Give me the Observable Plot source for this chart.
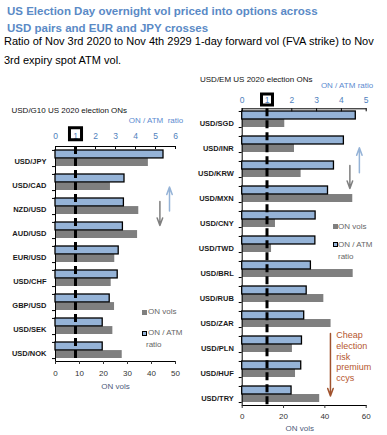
<!DOCTYPE html>
<html><head><meta charset="utf-8">
<script src="https://cdn.jsdelivr.net/npm/d3@7"></script>
<script src="https://cdn.jsdelivr.net/npm/@observablehq/plot@0.6"></script>
<style>
body{margin:0;background:#fff;}
#root{position:relative;width:387px;height:435px;overflow:hidden;font-family:"Liberation Sans",Arial,sans-serif;background:#fff;}
.abs{position:absolute;white-space:nowrap;line-height:1.15;}
.title{color:#5a8ac6;font-weight:bold;font-size:11.5px;left:7px;}
.sub{color:#000;font-size:11px;left:4px;}
.hdr{color:#111;font-size:8px;}
.leg{color:#666;font-size:8px;}
.sq{position:absolute;width:5px;height:5px;box-sizing:border-box;}
.svgwrap{position:absolute;}
.svgwrap svg{position:absolute;left:0;top:0;}
</style></head>
<body><div id="root">
<div class="abs title" style="top:5px">US Election Day overnight vol priced into options across</div>
<div class="abs title" style="top:21.5px">USD pairs and EUR and JPY crosses</div>
<div class="abs sub" style="top:35px">Ratio of Nov 3rd 2020 to Nov 4th 2929 1-day forward vol (FVA strike) to Nov</div>
<div class="abs sub" style="top:53.5px">3rd expiry spot ATM vol.</div>
<div class="abs hdr" style="left:11.5px;top:105.5px">USD/G10 US 2020 election ONs</div>
<div class="abs hdr" style="left:200px;top:74.5px">USD/EM US 2020 election ONs</div>
<div id="left" class="svgwrap" style="left:0;top:100px;width:190px;height:300px"></div>
<div id="right" class="svgwrap" style="left:190px;top:65px;width:197px;height:370px"></div>
<div class="sq" style="left:142px;top:309.5px;background:#7f7f7f"></div>
<div class="abs leg" style="left:148px;top:307.2px">ON vols</div>
<div class="sq" style="left:142px;top:330.5px;background:#95b3d7;border:1px solid #000"></div>
<div class="abs leg" style="left:148px;top:328.2px">ON / ATM</div>
<div class="abs leg" style="left:146px;top:340.2px">ratio</div>
<div class="sq" style="left:333px;top:223.5px;background:#7f7f7f"></div>
<div class="abs leg" style="left:338px;top:221.5px">ON vols</div>
<div class="sq" style="left:333px;top:242px;background:#95b3d7;border:1px solid #000"></div>
<div class="abs leg" style="left:338px;top:239.8px">ON / ATM</div>
<div class="abs leg" style="left:338px;top:251.5px">ratio</div>
</div>
<script>
// ---- data ----
const g10Pairs = ["USD/JPY","USD/CAD","NZD/USD","AUD/USD","EUR/USD","USD/CHF","GBP/USD","USD/SEK","USD/NOK"];
const g10Ratio = [5.4, 3.45, 3.42, 3.37, 3.16, 3.11, 2.71, 2.36, 2.36];
const g10Vol   = [38.7, 22.9, 34.7, 34.2, 24.7, 23.2, 24.6, 23.9, 27.8];
const g10RatioTicks = [0,1,2,3,4,5,6];
const g10VolTicks = [0,10,20,30,40,50];

const emPairs = ["USD/SGD","USD/INR","USD/KRW","USD/MXN","USD/CNY","USD/TWD","USD/BRL","USD/RUB","USD/ZAR","USD/PLN","USD/HUF","USD/TRY"];
const emRatio = [4.58, 4.1, 3.7, 3.46, 2.96, 2.95, 2.77, 2.6, 2.5, 2.41, 2.38, 1.99];
const emVol   = [20.6, 25.3, 28.5, 53.5, 16.1, 14.2, 53.7, 39.5, 43.0, 24.3, 25.8, 37.5];
const emRatioTicks = [0,1,2,3,4,5];
const emVolTicks = [0,20,40,60];

const font = '"Liberation Sans", Arial, sans-serif';
const BLUE = "#95b3d7", GREY = "#7f7f7f";

function panel(el, cfg) {
  const {pairs, ratio, vol, ratioTicks, volTicks, width, height, ml, mr, mt, mb, pIn, pOut,
         labDy, labPad, topPad, botPad, boxDy, boxR, ratioLabel, ratioLabDy, ratioLabDx, volLabDy, volLabDx, extra} = cfg;
  const rows = pairs.map((p, i) => ({pair: p, ratio: ratio[i], vol: vol[i]}));
  const frameH = height - mt - mb;
  const step = frameH / (pairs.length - pIn + 2 * pOut);
  const bw = step * (1 - pIn);
  const yScale = {type: "band", domain: pairs, paddingInner: pIn, paddingOuter: pOut, axis: null};
  const common = {width, height, marginLeft: ml, marginRight: mr, marginTop: mt, marginBottom: mb,
    style: {background: "transparent", fontFamily: font, overflow: "visible"}};
  const volMax = volTicks[volTicks.length - 1];
  const ratioMax = ratioTicks[ratioTicks.length - 1];
  const tickLen = 3 * volMax / (width - ml - mr);

  const volPlot = Plot.plot({...common,
    x: {domain: [0, volMax], axis: null},
    y: yScale,
    marks: [
      Plot.barX(rows, {x: "vol", y: "pair", fill: GREY, insetTop: bw / 2}),
      Plot.frame({anchor: "top", stroke: "#000"}),
      Plot.frame({anchor: "bottom", stroke: "#000"}),
      Plot.ruleX([0], {stroke: "#000"}),
      Plot.ruleY(pairs, {x1: -tickLen, x2: 0, dy: -bw / 2, stroke: "#000"}),
      Plot.ruleY(pairs, {x1: -tickLen, x2: 0, dy: bw / 2, stroke: "#000"}),
      Plot.axisY({tickSize: 0, tickPadding: labPad, dy: labDy, fontWeight: "bold", fontSize: 7.5, color: "#1a1a1a", label: null}),
      Plot.axisX(volTicks, {anchor: "bottom", tickSize: 3, tickPadding: botPad, fontSize: 8, color: "#333", label: null}),
      Plot.text(["ON vols"], {frameAnchor: "bottom", dy: volLabDy, dx: volLabDx, fill: "#4d5a7a", fontSize: 8, lineAnchor: "middle"}),
      ...extra(bw)
    ]
  });
  const ratioPlot = Plot.plot({...common,
    x: {domain: [0, ratioMax], axis: null},
    y: yScale,
    marks: [
      Plot.barX(rows, {x: "ratio", y: "pair", fill: BLUE, stroke: "#000", strokeWidth: 1.3, insetBottom: bw / 2}),
      Plot.ruleX(ratioTicks, {insetBottom: frameH - 3, stroke: "#000"}),
      Plot.axisX(ratioTicks, {anchor: "top", tickSize: 0, tickPadding: topPad, fontSize: 8.5, color: "#4f81bd", label: null}),
      Plot.ruleX([1], {stroke: "#000", strokeWidth: 3, strokeDasharray: "8,4"}),
      Plot.dot([1], {x: d => d, frameAnchor: "top", dy: boxDy, symbol: "square", r: boxR, stroke: "#000", strokeWidth: 3, fill: "none"}),
      Plot.text([ratioLabel], {frameAnchor: "top-right", textAnchor: "end", lineAnchor: "middle", dy: ratioLabDy, dx: ratioLabDx, fill: "#5b8bd0", fontSize: 8})
    ]
  });
  el.appendChild(volPlot);
  el.appendChild(ratioPlot);
}

panel(document.getElementById("left"), {
  pairs: g10Pairs, ratio: g10Ratio, vol: g10Vol, ratioTicks: g10RatioTicks, volTicks: g10VolTicks,
  width: 190, height: 300, ml: 55, mr: 15, mt: 46, mb: 39, pIn: 0.35, pOut: 0,
  labDy: 3.5, labPad: 9, topPad: 7.4, botPad: 5.8, boxDy: -12.7, boxR: 6.8,
  ratioLabel: "ON / ATM\u00a0 ratio", ratioLabDy: -26, ratioLabDx: 7.7, volLabDy: 24.7, volLabDx: 0,
  extra: bw => [
    Plot.arrow([0], {x: () => 47.5, y1: () => g10Pairs[2], y2: () => g10Pairs[1], dy: 4.5, stroke: BLUE, strokeWidth: 1.5, headLength: 8, headAngle: 40}),
    Plot.arrow([0], {x: () => 43.5, y1: () => g10Pairs[2], y2: () => g10Pairs[3], dy: -5, stroke: GREY, strokeWidth: 1.5, headLength: 8, headAngle: 40})
  ]
});

panel(document.getElementById("right"), {
  pairs: emPairs, ratio: emRatio, vol: emVol, ratioTicks: emRatioTicks, volTicks: emVolTicks,
  width: 197, height: 370, ml: 51.7, mr: 21.3, mt: 43.3, mb: 30, pIn: 0.36, pOut: 0.1,
  labDy: 4.5, labPad: 8.4, topPad: 5.4, botPad: 5.1, boxDy: -9.3, boxR: 6.2,
  ratioLabel: "ON / ATM ratio", ratioLabDy: -23.3, ratioLabDx: 7, volLabDy: 23, volLabDx: -4.5,
  extra: bw => [
    Plot.arrow([0], {x: () => 56.7, y1: () => emPairs[2], y2: () => emPairs[1], dy: 3.3, stroke: BLUE, strokeWidth: 1.5, headLength: 8, headAngle: 40}),
    Plot.arrow([0], {x: () => 52.1, y1: () => emPairs[2], y2: () => emPairs[3], dy: -4, insetEnd: 2, stroke: GREY, strokeWidth: 1.5, headLength: 8, headAngle: 40}),
    Plot.arrow([0], {x: () => 42.7, y1: () => emPairs[8], y2: () => emPairs[11], dy: 1.5, insetStart: 12.5, stroke: "#a0522d", strokeWidth: 1.5, headLength: 8, headAngle: 40}),
    Plot.text(["Cheap\nelection\nrisk\npremium\nccys"], {x: () => 45.5, y: () => emPairs[8], textAnchor: "start", lineAnchor: "top", dy: 10.8, fontSize: 9, lineHeight: 1.2, fill: "#b5562e"})
  ]
});
</script>
</body></html>
